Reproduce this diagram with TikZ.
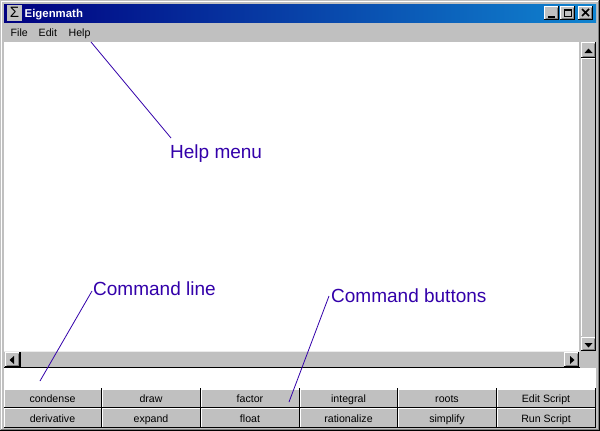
\documentclass[tikz,border=0pt]{standalone}
\usepackage{fontspec}
\setmainfont{Liberation Sans}
\definecolor{wingray}{RGB}{192,192,192}
\definecolor{windark}{RGB}{128,128,128}
\definecolor{navy1}{RGB}{0,0,128}
\definecolor{sky1}{RGB}{16,132,208}
\definecolor{callout}{RGB}{51,0,170}
\tikzset{
  uitext/.style={font=\fontsize{10.6}{12}\selectfont,text=black,inner sep=0pt},
  calloutlabel/.style={font=\fontsize{19}{22}\selectfont,text=callout,inner sep=0pt,anchor=base west},
  calloutline/.style={draw=callout,line width=0.8pt}
}
\newcommand{\bevel}[4]{% x0 y0 x1 y1
  \fill[wingray] (#1,#2) rectangle (#3,#4);
  \draw[white,line width=1pt] (#1+.5,#4-1) -- (#1+.5,#2+.5) -- (#3-1,#2+.5);
  \draw[windark,line width=1pt] (#1+1.5,#4-1.5) -- (#3-1.5,#4-1.5) -- (#3-1.5,#2+1.5);
  \draw[black,line width=1pt] (#1,#4-.5) -- (#3-.5,#4-.5) -- (#3-.5,#2);
}
\newcommand{\cmdbtn}[6]{% name x0 y0 x1 y1 text
  \fill[wingray] (#2,#3) rectangle (#4,#5);
  \draw[white,line width=1pt] (#2+.5,#5-1) -- (#2+.5,#3+.5) -- (#4-1,#3+.5);
  \draw[black,line width=1.3pt] (#2,#5-.3) -- (#4-.5,#5-.3) -- (#4-.5,#3-.5);
  \node[uitext,anchor=base] (#1) at ({(#2+#4)/2-.5},#5-5.5) {#6};
}
\begin{document}
\begin{tikzpicture}[x=1pt,y=-1pt]
\useasboundingbox (0,0) rectangle (600,431);
\fill[wingray] (0,0) rectangle (600,431);
% outer frame
\draw[white,line width=1pt] (1.5,430) -- (1.5,1.5) -- (598,1.5);
\draw[windark,line width=1pt] (598.5,1) -- (598.5,429.5) -- (1,429.5);
\draw[black,line width=1pt] (599.5,0) -- (599.5,430.5) -- (0,430.5);
% title bar
\shade[left color=navy1,right color=sky1] (4,4) rectangle (596,22);
\fill[wingray] (7,5) rectangle (22,21);
\node[inner sep=0pt,font=\fontsize{15}{15}\selectfont,text=black] (sigma) at (14.5,12.5) {Σ};
\node[inner sep=0pt,anchor=base west,text=white,font=\bfseries\fontsize{11.4}{12}\selectfont] (title) at (24.5,17) {Eigenmath};
% window buttons
\bevel{544}{6}{559}{20}
\bevel{560}{6}{575}{20}
\bevel{578}{6}{593}{20}
\draw[black,line width=2pt] (548,16.5) -- (555,16.5);
\draw[black,line width=1pt] (564.5,9.5) rectangle (571.5,16.5);
\draw[black,line width=1pt] (564.5,10.5) -- (571.5,10.5);
\draw[black,line width=1.5pt] (582,9) -- (589,16) (589,9) -- (582,16);
% menu
\node[uitext,anchor=base west] (mfile) at (10.5,36) {File};
\node[uitext,anchor=base west] (medit) at (38.5,36) {Edit};
\node[uitext,anchor=base west] (mhelp) at (68.5,36) {Help};
% text area
\fill[white] (4,42) rectangle (579,351);
% vertical scrollbar
\bevel{581}{42}{596}{58}
\fill[black] (584.5,53) -- (588.5,48.5) -- (592.5,53) -- cycle;
\fill[wingray] (581,58) rectangle (596,337);
\draw[white,line width=1pt] (581.5,336) -- (581.5,58.5) -- (595,58.5);
\draw[black,line width=1pt] (595.5,58) -- (595.5,337);
\draw[black,line width=1pt] (581,57.5) -- (596,57.5);
\bevel{581}{337}{596}{351}
\fill[black] (584.5,343) -- (592.5,343) -- (588.5,347.5) -- cycle;
% horizontal scrollbar
\fill[wingray] (4,351) rectangle (580,367);
\draw[white!92!black,line width=1pt] (4,351.5) -- (580,351.5);
\bevel{5}{352}{20}{367}
\fill[black] (14,356) -- (9.5,360) -- (14,364) -- cycle;
\bevel{564}{352}{579}{367}
\fill[black] (570,356) -- (574.5,360) -- (570,364) -- cycle;
\draw[black,line width=1.2pt] (4,367.5) -- (580,367.5);
\draw[black,line width=1pt] (20.5,352) -- (20.5,367);
% input line
\fill[white] (4,368) rectangle (596,388.5);
% command buttons
\cmdbtn{bcondense}{4}{388.5}{102}{407.5}{condense}
\cmdbtn{bdraw}{102}{388.5}{201}{407.5}{draw}
\cmdbtn{bfactor}{201}{388.5}{300}{407.5}{factor}
\cmdbtn{bintegral}{300}{388.5}{398}{407.5}{integral}
\cmdbtn{broots}{398}{388.5}{497}{407.5}{roots}
\cmdbtn{bedit}{497}{388.5}{596}{407.5}{Edit Script}
\cmdbtn{bderiv}{4}{407.5}{102}{427.5}{derivative}
\cmdbtn{bexpand}{102}{407.5}{201}{427.5}{expand}
\cmdbtn{bfloat}{201}{407.5}{300}{427.5}{float}
\cmdbtn{brat}{300}{407.5}{398}{427.5}{rationalize}
\cmdbtn{bsimp}{398}{407.5}{497}{427.5}{simplify}
\cmdbtn{brun}{497}{407.5}{596}{427.5}{Run Script}
% callouts
\node[calloutlabel] (lhelp) at (170,158) {Help menu};
\node[calloutlabel] (lcmdline) at (93,295) {Command line};
\node[calloutlabel] (lcmdbtn) at (331,302) {Command buttons};
\coordinate (thelp) at (91,42);
\coordinate (ehelp) at (171,138);
\coordinate (tline) at (40,381);
\coordinate (eline) at (92,291);
\coordinate (tbtn) at (289,402);
\coordinate (ebtn) at (329,296);
\draw[calloutline] (thelp) -- (ehelp);
\draw[calloutline] (tline) -- (eline);
\draw[calloutline] (tbtn) -- (ebtn);
\end{tikzpicture}
\end{document}
